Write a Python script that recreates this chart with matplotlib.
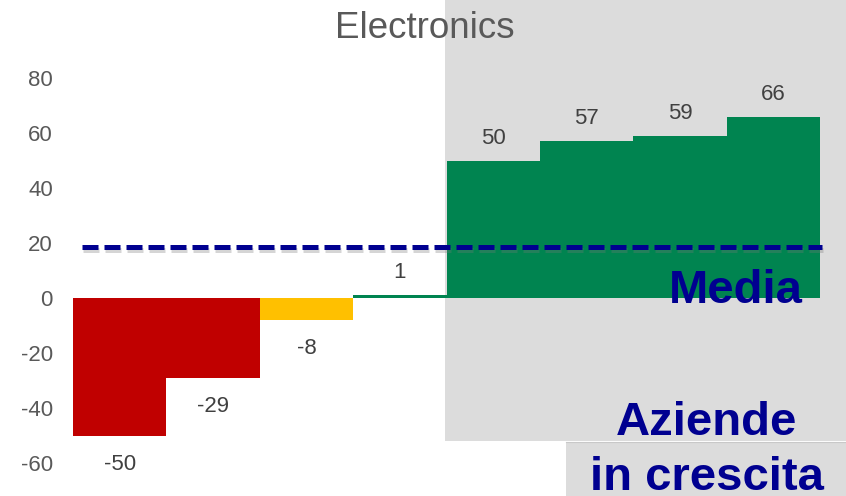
import matplotlib.pyplot as plt
import matplotlib.patheffects as pe
from matplotlib.patches import Rectangle

plt.rcParams['font.family'] = ['Liberation Sans', 'DejaVu Sans']

values = [-50, -29, -8, 1, 50, 57, 59, 66]
colors = ['#C00000', '#C00000', '#FFC000', '#008450', '#008450', '#008450', '#008450', '#008450']
media = 18.5
yticks = [-60, -40, -20, 0, 20, 40, 60, 80]
title = 'Electronics'

W, H = 846, 496
fig = plt.figure(figsize=(W / 100, H / 100), dpi=100)
# plot area in pixels: x 73..820, y 78 (80) .. 463 (-60)
ax = fig.add_axes([73 / W, (H - 463) / H, (820 - 73) / W, (463 - 78) / H])
ax.set_facecolor('none')

# grey "growing companies" band behind the positive bars
gray = '#DCDCDC'
ax.add_patch(Rectangle((445 / W, (H - 441) / H), 1 - 445 / W, 441 / H,
                       transform=fig.transFigure, facecolor=gray, edgecolor='none',
                       clip_on=False, zorder=0))
ax.add_patch(Rectangle((566 / W, 0), 1 - 566 / W, (H - 442) / H,
                       transform=fig.transFigure, facecolor=gray, edgecolor='none',
                       clip_on=False, zorder=0))
ax.plot([566 / W, 1], [(H - 441.5) / H] * 2, transform=fig.transFigure,
        color='#C8C8C8', lw=0.8, clip_on=False, zorder=0.5)

x = list(range(len(values)))
ax.bar(x, values, width=1.0, color=colors, zorder=1)

for xi, v in zip(x, values):
    off = 22.5 if v > 0 else -29
    ax.annotate(str(v), (xi, v), xytext=(0, off * 0.72), textcoords='offset points',
                ha='center', va='center', fontsize=16, color='#404040')

# average line
ax.plot([-0.4, 7.52], [media, media], color='#000090', lw=3.6, ls=(0, (3.2, 1.2)),
        solid_capstyle='butt', dash_capstyle='butt', clip_on=False, zorder=3,
        path_effects=[pe.SimpleLineShadow(offset=(0.5, -2), shadow_color='#777777', alpha=0.3),
                      pe.Normal()])

ax.set_xlim(-0.5, 7.5)
ax.set_ylim(-60, 80)
ax.set_yticks(yticks)
ax.set_yticklabels([str(t) for t in yticks])
ax.tick_params(axis='y', length=0, pad=14.5, labelsize=16, labelcolor='#595959')
ax.set_xticks([])
for s in ax.spines.values():
    s.set_visible(False)

fig.text(425 / W, 1 - 38 / H, title, ha='center', va='baseline', fontsize=26.5, color='#595959')
fig.text(736 / W, 1 - 303 / H, 'Media', ha='center', va='baseline', fontsize=34,
         fontweight='bold', color='#000090', zorder=4)
fig.text(707 / W, 1 - 435 / H, 'Aziende', ha='center', va='baseline', fontsize=34,
         fontweight='bold', color='#000090')
fig.text(707 / W, 1 - 490 / H, 'in crescita', ha='center', va='baseline', fontsize=34,
         fontweight='bold', color='#000090')

fig.savefig('out.png', dpi=100)
